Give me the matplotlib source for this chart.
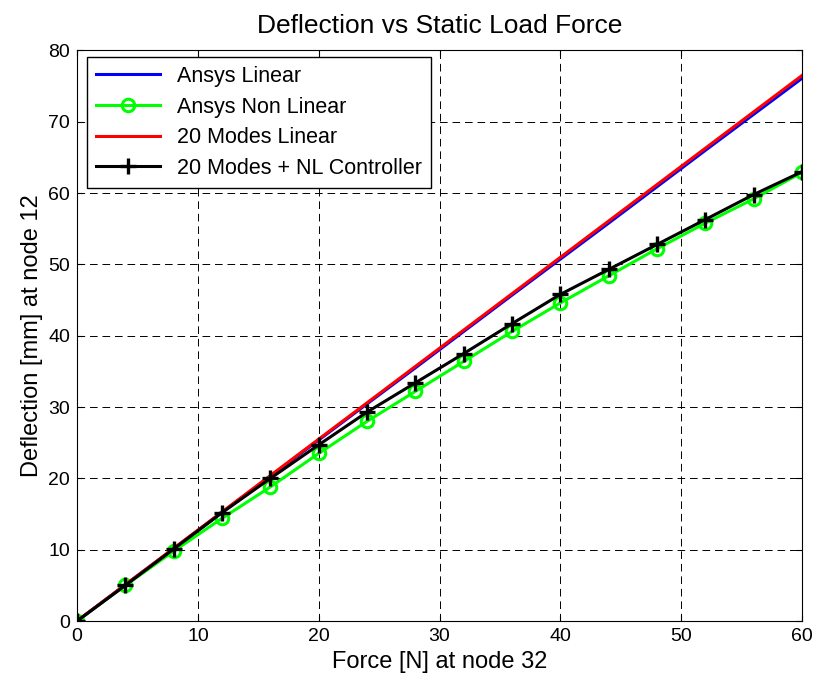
import matplotlib
matplotlib.use("Agg")
import matplotlib.pyplot as plt

plt.rcParams["font.family"] = ["Liberation Sans", "DejaVu Sans"]
plt.rcParams["lines.scale_dashes"] = False

# force at node 32 [N]
force = [0, 4, 8, 12, 16, 20, 24, 28, 32, 36, 40, 44, 48, 52, 56, 60]

ansys_linear = [0, 5.08, 10.15, 15.22, 20.3, 25.38, 30.45, 35.5, 40.6,
                45.7, 50.75, 55.8, 60.9, 66.0, 71.05, 76.1]
ansys_nonlinear = [0, 5.0, 9.8, 14.4, 18.8, 23.5, 28.0, 32.2, 36.4,
                   40.6, 44.6, 48.4, 52.2, 55.8, 59.2, 62.9]
modes_linear = [0, 5.1, 10.2, 15.3, 20.4, 25.5, 30.6, 35.7, 40.8,
                45.9, 51.0, 56.1, 61.2, 66.3, 71.4, 76.5]
modes_nl_ctrl = [0, 5.0, 10.1, 15.2, 20.0, 24.7, 29.3, 33.4, 37.5,
                 41.7, 45.8, 49.3, 52.8, 56.3, 59.8, 63.0]

fig = plt.figure(figsize=(8.17, 6.85), dpi=100)
ax = fig.add_axes([0.0943, 0.0934, 0.8874, 0.8329])

ax.plot(force, ansys_linear, color="#0000ff", lw=2.2, label="Ansys Linear")
ax.plot(force, ansys_nonlinear, color="#00ff00", lw=2.2, marker="o",
        ms=9, mew=2.2, mfc="none", label="Ansys Non Linear")
ax.plot(force, modes_linear, color="#ff0000", lw=2.2, label="20 Modes Linear")
ax.plot(force, modes_nl_ctrl, color="black", lw=2.2, marker="+",
        ms=11, mew=2.4, label="20 Modes + NL Controller")

ax.set_xlim(0, 60)
ax.set_ylim(0, 80)
ax.set_xticks(range(0, 61, 10))
ax.set_yticks(range(0, 81, 10))
ax.grid(True, color="black", linestyle=(0, (5.5, 3.5)), linewidth=0.7)
ax.tick_params(direction="in", top=True, right=True, length=4,
               labelsize=14, pad=5)
for s in ax.spines.values():
    s.set_linewidth(0.8)

ax.set_title("Deflection vs Static Load Force", fontsize=19, pad=12.5)
ax.set_xlabel("Force [N] at node 32", fontsize=17, labelpad=4)
ax.set_ylabel("Deflection [mm] at node 12", fontsize=17, labelpad=4)

leg = ax.legend(loc="upper left", bbox_to_anchor=(0.0138, 0.988),
                borderaxespad=0, fontsize=15.5, handlelength=3.0,
                labelspacing=0.45, fancybox=False, framealpha=1,
                edgecolor="black")
leg.get_frame().set_linewidth(1.0)

fig.savefig("out.png", dpi=100)
